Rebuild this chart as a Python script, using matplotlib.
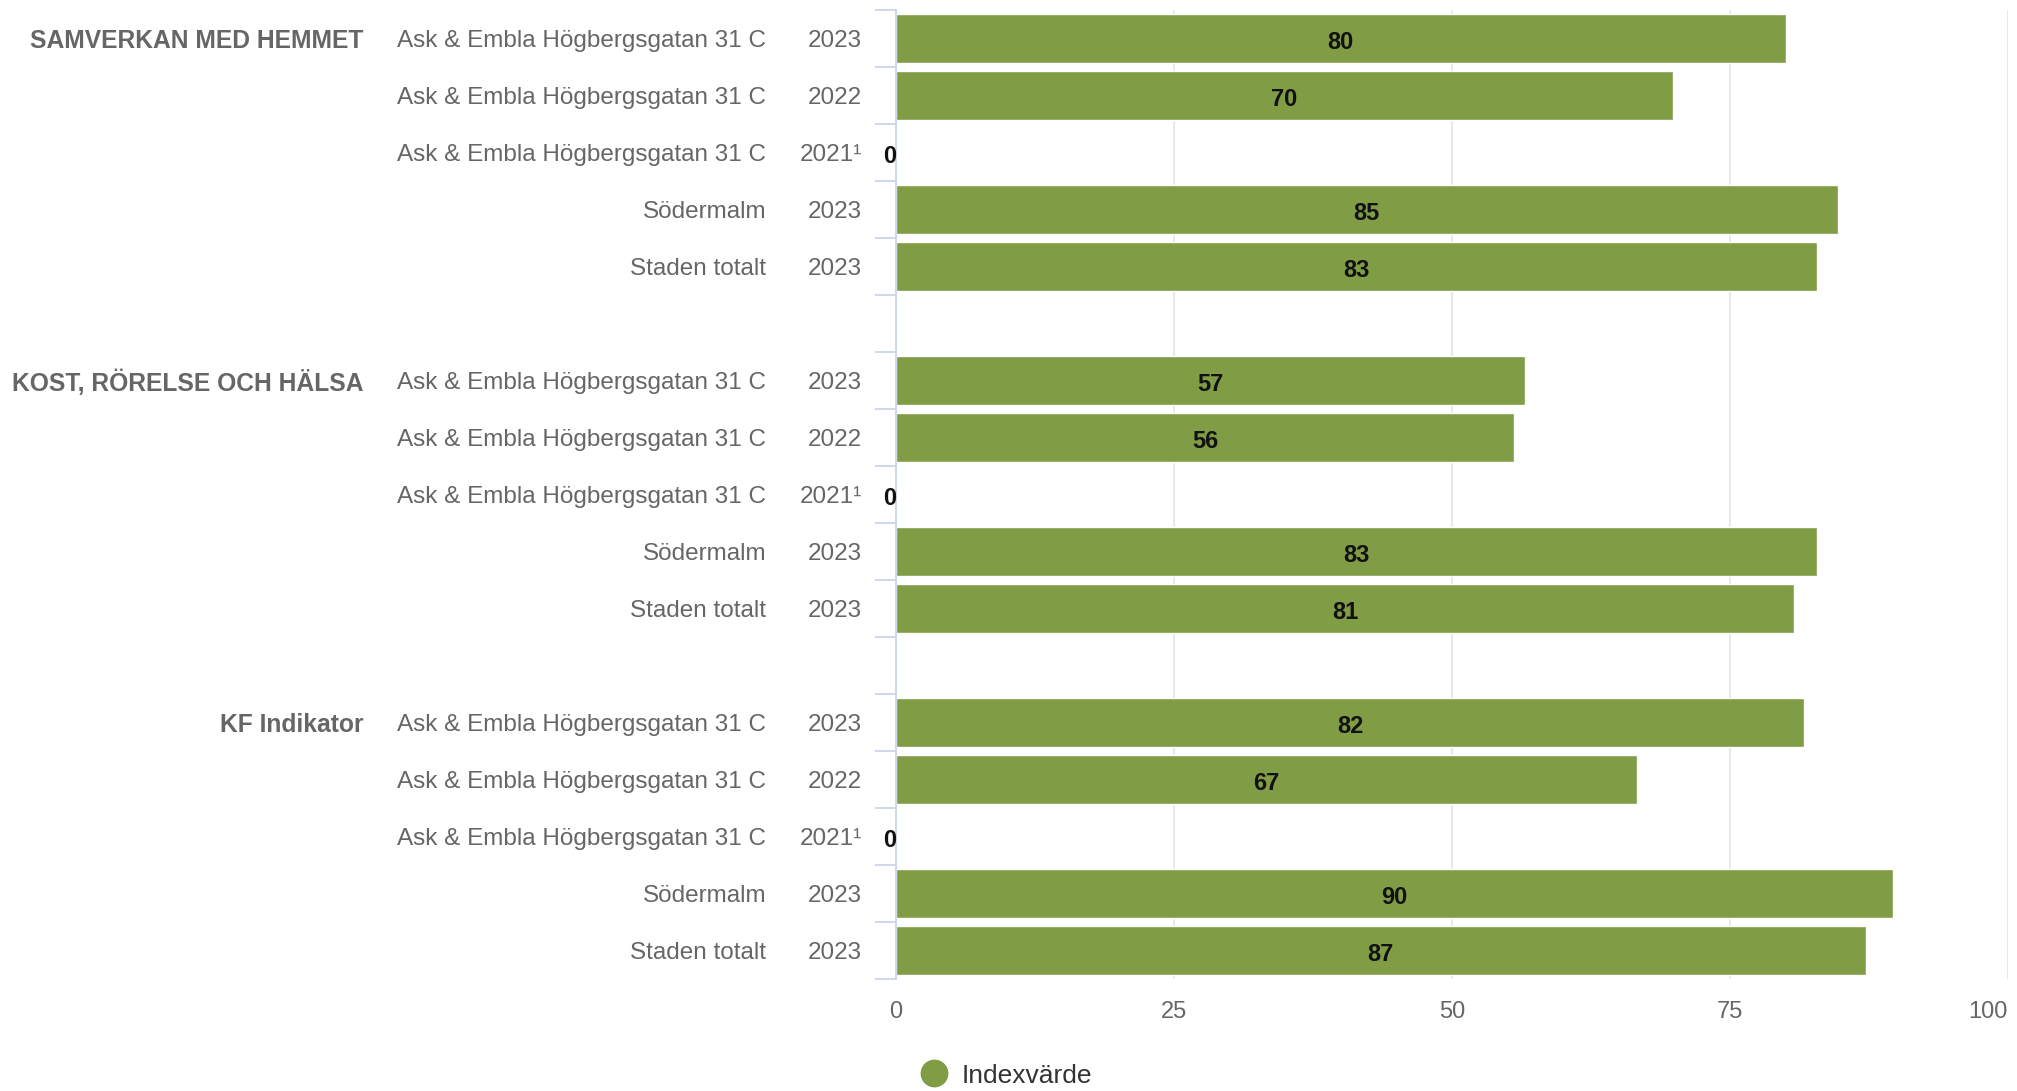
import matplotlib
matplotlib.use("Agg")
import matplotlib.pyplot as plt
from matplotlib.lines import Line2D
from matplotlib.transforms import blended_transform_factory

plt.rcParams['font.family'] = ['Liberation Sans', 'DejaVu Sans']

groups = ["SAMVERKAN MED HEMMET", "KOST, RÖRELSE OCH HÄLSA", "KF Indikator"]
units = ["Ask & Embla Högbergsgatan 31 C", "Ask & Embla Högbergsgatan 31 C",
         "Ask & Embla Högbergsgatan 31 C", "Södermalm", "Staden totalt"]
years = ["2023", "2022", "2021¹", "2023", "2023"]
values = [
    [80.0, 69.9, 0, 84.7, 82.8],
    [56.6, 55.6, 0, 82.8, 80.8],
    [81.7, 66.6, 0, 89.7, 87.2],
]
xticks = [0, 25, 50, 75, 100]
series_name = "Indexvärde"

GREEN = "#809c44"
GRAY = "#666666"
AXC = "#ccd6eb"

fig = plt.figure(figsize=(20.17, 10.91), dpi=100)
ax = fig.add_axes([0.4442, 0.1027, 0.9955 - 0.4442, 0.9908 - 0.1027])

slots, vals = [], []
for g, gv in enumerate(values):
    for r, v in enumerate(gv):
        slots.append(g * 6 + r)
        vals.append(v)

nslots = len(groups) * 6 - 1
ax.set_ylim(nslots - 0.5, -0.5)
ax.set_xlim(0, 100)

ax.barh(slots, vals, height=0.86, color=GREEN, edgecolor="white", linewidth=1, zorder=2)

for s, v in zip(slots, vals):
    if v > 0:
        ax.text(v / 2, s + 0.07, f"{v:.0f}", ha="center", va="center",
                fontsize=17, fontweight="bold", color="#111111", zorder=3)
    else:
        ax.text(0, s + 0.07, f"{v:.0f}", ha="right", va="center",
                fontsize=17, fontweight="bold", color="#111111", zorder=3)

ax.set_xticks(xticks)
ax.set_xticklabels([str(t) for t in xticks])
ax.tick_params(axis="x", length=0, pad=16, labelsize=17, labelcolor=GRAY)
tl = ax.get_xticklabels()
tl[-1].set_ha("right")
ax.grid(axis="x", color="#e6e6e6", linewidth=1.3, zorder=0)
ax.set_axisbelow(True)

ax.set_yticks([])
ax.set_yticks([i - 0.5 for i in range(nslots + 1)], minor=True)
ax.tick_params(axis="y", which="minor", length=15, width=1.3, color=AXC, labelleft=False)

for sp in ["top", "right", "bottom"]:
    ax.spines[sp].set_visible(False)
ax.spines["left"].set_color(AXC)
ax.spines["left"].set_linewidth(1.3)

tr = blended_transform_factory(fig.transFigure, ax.transData)
for g, name in enumerate(groups):
    ax.text(0.180, g * 6 + 0.045, name, transform=tr, ha="right", va="center",
            fontsize=17.7, fontweight="bold", color=GRAY)
    for r in range(5):
        s = g * 6 + r
        ax.text(0.380, s + 0.045, units[r], transform=tr, ha="right", va="center",
                fontsize=17.5, color=GRAY)
        ax.text(0.4275, s + 0.045, years[r], transform=tr, ha="right", va="center",
                fontsize=17.5, color=GRAY)

handle = Line2D([], [], marker="o", linestyle="", color=GREEN, markersize=19)
fig.legend(handles=[handle], labels=[series_name], loc="center left",
           bbox_to_anchor=(0.450, 0.014), frameon=False, fontsize=19,
           handlelength=1, handletextpad=0.55, borderpad=0, labelcolor="#333333")

fig.savefig("out.png", dpi=100)
